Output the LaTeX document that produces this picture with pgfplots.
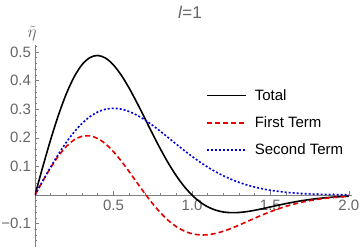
\documentclass[border=0pt]{standalone}
\usepackage{pgfplots}
\pgfplotsset{compat=1.18}
\usepackage{pgfplotstable}
\usepackage{fontspec}
\setmainfont{Liberation Sans}
\definecolor{axgray}{gray}{0.5}
\definecolor{lblgray}{gray}{0.4}

\pgfplotstableread{
x total first second
0.00 0.000000 0.000000 0.000000
0.05 0.099252 0.049502 0.049751
0.10 0.194079 0.096060 0.098020
0.15 0.280346 0.136947 0.143400
0.20 0.354477 0.169853 0.184623
0.25 0.413670 0.193046 0.220624
0.30 0.456057 0.205476 0.250581
0.35 0.480777 0.206830 0.273947
0.40 0.487972 0.197513 0.290460
0.45 0.478724 0.178583 0.300140
0.50 0.454898 0.151633 0.303265
0.55 0.418976 0.118635 0.300341
0.60 0.373826 0.081774 0.292051
0.65 0.322490 0.043278 0.279212
0.70 0.267972 0.005254 0.262718
0.75 0.213053 -0.030436 0.243489
0.80 0.160149 -0.062280 0.222430
0.85 0.111213 -0.089171 0.200384
0.90 0.067681 -0.110428 0.178109
0.95 0.030469 -0.125781 0.156250
1.00 0.000000 -0.135335 0.135335
1.05 -0.023731 -0.139495 0.115764
1.10 -0.041082 -0.138896 0.097814
1.15 -0.052667 -0.134323 0.081656
1.20 -0.059279 -0.126641 0.067362
1.25 -0.061786 -0.116707 0.054921
1.30 -0.061080 -0.105341 0.044261
1.35 -0.058012 -0.093278 0.035266
1.40 -0.053332 -0.081110 0.027778
1.45 -0.047706 -0.069341 0.021635
1.50 -0.041659 -0.058322 0.016663
1.60 -0.029832 -0.039394 0.009562
1.70 -0.019850 -0.025101 0.005251
1.80 -0.012370 -0.015131 0.002761
1.90 -0.007260 -0.008651 0.001391
2.00 -0.004026 -0.004697 0.000671
}\datatable

\begin{document}
\begin{tikzpicture}
\begin{axis}[
  scale only axis, width=317bp, height=201.6bp,
  xmin=0, xmax=2.02, ymin=-0.18, ymax=0.525,
  axis lines=middle,
  axis line style={-, draw=axgray, line width=0.6bp},
  xtick={0.5,1,1.5,2}, xticklabels={0.5,1.0,1.5,2.0},
  ytick={-0.1,0.1,0.2,0.3,0.4,0.5}, yticklabels={−0.1,0.1,0.2,0.3,0.4,0.5},
  minor xtick={0.1,0.2,0.3,0.4,0.6,0.7,0.8,0.9,1.1,1.2,1.3,1.4,1.6,1.7,1.8,1.9},
  minor ytick={-0.16,-0.14,-0.12,-0.08,-0.06,-0.04,-0.02,0.02,0.04,0.06,0.08,0.12,0.14,0.16,0.18,0.22,0.24,0.26,0.28,0.32,0.34,0.36,0.38,0.42,0.44,0.46,0.48,0.52},
  tick align=inside,
  major tick length=4bp, minor tick length=2.5bp,
  every tick/.style={draw=axgray, line width=0.6bp},
  ticklabel style={font=\fontsize{15bp}{17bp}\selectfont, text=lblgray},
  xticklabel style={yshift=-1.5bp},
  yticklabel style={xshift=-0.5bp},
  legend style={draw=none, fill=none, at={(0.53,0.613)}, anchor=west,
    font=\fontsize{15bp}{17bp}\selectfont, row sep=11bp, column sep=6bp},
  legend cell align=left,
  legend image code/.code={\draw[#1] (0bp,0bp) -- (39bp,0bp);},
]
\addplot[black, line width=1.6bp, smooth] table[x=x, y=total] {\datatable};
\addlegendentry{Total}
\addplot[red!90!black, line width=1.6bp, smooth, dash pattern=on 5bp off 3bp] table[x=x, y=first] {\datatable};
\addlegendentry{First Term}
\addplot[blue!85!black, line width=1.6bp, smooth, dash pattern=on 2bp off 2bp] table[x=x, y=second] {\datatable};
\addlegendentry{Second Term}
\end{axis}
\node[text=lblgray, font=\fontsize{17bp}{19bp}\selectfont] at (155bp,234bp) {\textit{l}=1};
\node[text=lblgray, font=\fontsize{16bp}{18bp}\selectfont] at (-3bp,213bp) {$\tilde{\eta}$};
\pgfresetboundingbox
\path (-35bp,-1.5bp) rectangle (325bp,246.5bp);
\end{tikzpicture}
\end{document}
